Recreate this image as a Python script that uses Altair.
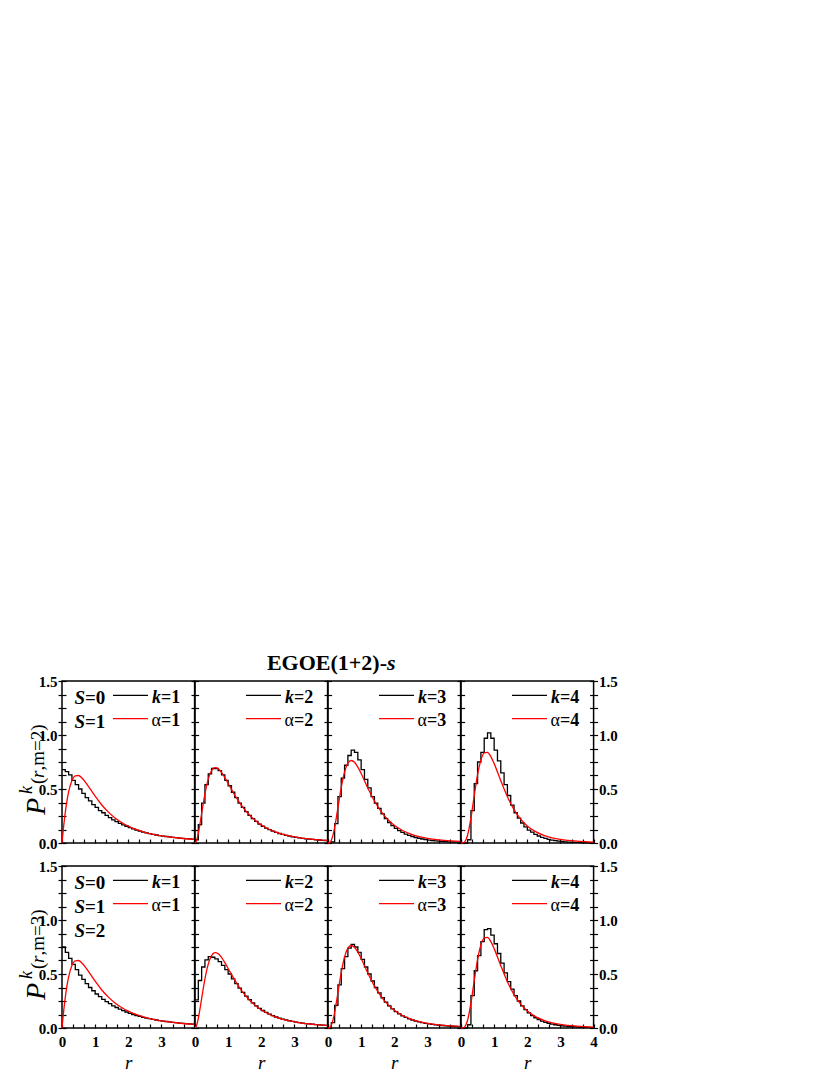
import altair as alt
import pandas as pd

F = "Liberation Serif"

# ---------------- data ----------------
# bin edges of the histograms (bin width 0.1)
R_EDGES = [round(i * 0.1, 1) for i in range(41)]

HIST_M2_K1 = [0.68, 0.66, 0.63, 0.58, 0.54, 0.50, 0.46, 0.42, 0.39, 0.355, 0.33, 0.30, 0.28, 0.255, 0.235, 0.215, 0.198, 0.182, 0.168, 0.155,
              0.142, 0.13, 0.12, 0.11, 0.101, 0.093, 0.086, 0.08, 0.074, 0.069, 0.064, 0.06, 0.056, 0.052, 0.049, 0.046, 0.043, 0.04, 0.038, 0.036]
HIST_M2_K2 = [0.03, 0.17, 0.37, 0.54, 0.64, 0.69, 0.69, 0.67, 0.63, 0.58, 0.53, 0.47, 0.42, 0.37, 0.33, 0.29, 0.255, 0.225, 0.2, 0.175,
              0.155, 0.138, 0.123, 0.11, 0.098, 0.088, 0.079, 0.071, 0.064, 0.058, 0.052, 0.047, 0.043, 0.039, 0.036, 0.033, 0.03, 0.028, 0.025, 0.023]
HIST_M2_K3 = [0.0, 0.01, 0.18, 0.43, 0.60, 0.72, 0.81, 0.86, 0.84, 0.77, 0.68, 0.59, 0.51, 0.43, 0.37, 0.32, 0.27, 0.225, 0.19, 0.16,
              0.135, 0.115, 0.098, 0.083, 0.07, 0.06, 0.051, 0.044, 0.037, 0.032, 0.027, 0.023, 0.02, 0.017, 0.015, 0.013, 0.011, 0.01, 0.009, 0.008]
HIST_M2_K4 = [0.0, 0.0, 0.03, 0.30, 0.55, 0.75, 0.84, 0.97, 1.02, 0.97, 0.86, 0.76, 0.65, 0.54, 0.44, 0.35, 0.28, 0.23, 0.185, 0.15,
              0.12, 0.10, 0.08, 0.065, 0.052, 0.042, 0.034, 0.027, 0.022, 0.018, 0.014, 0.011, 0.009, 0.007, 0.006, 0.005, 0.004, 0.003, 0.002, 0.002]

HIST_M3_K1 = [0.75, 0.70, 0.645, 0.59, 0.54, 0.49, 0.45, 0.41, 0.375, 0.345, 0.315, 0.29, 0.265, 0.245, 0.225, 0.205, 0.19, 0.175, 0.16, 0.148,
              0.135, 0.125, 0.115, 0.107, 0.099, 0.092, 0.086, 0.08, 0.074, 0.069, 0.064, 0.06, 0.056, 0.052, 0.049, 0.046, 0.043, 0.04, 0.038, 0.036]
HIST_M3_K2 = [0.26, 0.44, 0.565, 0.63, 0.66, 0.655, 0.64, 0.615, 0.58, 0.54, 0.5, 0.455, 0.41, 0.37, 0.33, 0.295, 0.262, 0.232, 0.205, 0.182,
              0.162, 0.144, 0.128, 0.114, 0.102, 0.092, 0.083, 0.075, 0.067, 0.061, 0.055, 0.05, 0.045, 0.041, 0.038, 0.035, 0.032, 0.029, 0.027, 0.025]
HIST_M3_K3 = [0.0, 0.05, 0.21, 0.40, 0.55, 0.66, 0.74, 0.775, 0.75, 0.70, 0.635, 0.565, 0.5, 0.435, 0.375, 0.325, 0.28, 0.24, 0.205, 0.177,
              0.152, 0.131, 0.113, 0.098, 0.085, 0.074, 0.064, 0.056, 0.049, 0.043, 0.038, 0.033, 0.029, 0.026, 0.023, 0.02, 0.018, 0.016, 0.014, 0.012]
HIST_M3_K4 = [0.0, 0.0, 0.03, 0.30, 0.53, 0.67, 0.80, 0.91, 0.92, 0.86, 0.78, 0.69, 0.60, 0.51, 0.43, 0.36, 0.30, 0.25, 0.205, 0.17,
              0.14, 0.115, 0.095, 0.078, 0.064, 0.053, 0.044, 0.036, 0.03, 0.025, 0.021, 0.017, 0.014, 0.012, 0.01, 0.008, 0.007, 0.006, 0.005, 0.004]

R_CURVE = [0, 0.05, 0.1, 0.15, 0.2, 0.3, 0.4, 0.5, 0.6, 0.7, 0.8, 0.9, 1.0, 1.2, 1.4, 1.6, 1.8, 2.0, 2.25, 2.5, 2.75, 3.0, 3.5, 4.0]
ALPHA1 = [0, 0.156, 0.286, 0.391, 0.473, 0.578, 0.622, 0.625, 0.602, 0.566, 0.523, 0.477, 0.433, 0.352, 0.286, 0.232, 0.190, 0.156,
          0.124, 0.0995, 0.0808, 0.0665, 0.0463, 0.0334]
ALPHA2 = [0, 0.0251, 0.089, 0.176, 0.272, 0.455, 0.591, 0.670, 0.697, 0.687, 0.653, 0.605, 0.551, 0.443, 0.349, 0.273, 0.213, 0.167,
          0.125, 0.0946, 0.0725, 0.0563, 0.0352, 0.023]
ALPHA3 = [0, 0.0037, 0.0254, 0.0724, 0.143, 0.328, 0.514, 0.657, 0.739, 0.764, 0.747, 0.702, 0.643, 0.510, 0.390, 0.293, 0.219, 0.164,
          0.1155, 0.0823, 0.0595, 0.0436, 0.0245, 0.0145]
ALPHA4 = [0, 0.0005, 0.0071, 0.0292, 0.074, 0.232, 0.440, 0.633, 0.768, 0.834, 0.839, 0.800, 0.735, 0.577, 0.428, 0.309, 0.221, 0.158,
          0.1048, 0.0703, 0.0479, 0.0332, 0.0167, 0.0089]

HISTS = [[HIST_M2_K1, HIST_M2_K2, HIST_M2_K3, HIST_M2_K4],
         [HIST_M3_K1, HIST_M3_K2, HIST_M3_K3, HIST_M3_K4]]
ALPHAS = [ALPHA1, ALPHA2, ALPHA3, ALPHA4]
M_VALUES = ["2", "3"]
K_LABELS = ["1", "2", "3", "4"]
S_LABELS = [["0", "1"], ["0", "1", "2"]]
Y_TICKS = [i * 0.125 for i in range(13)]
X_TICKS = [i / 3 for i in range(13)]
TITLE_MAIN = "EGOE(1+2)-"
TITLE_ITALIC = "s"

# ---------------- layout ----------------
W = 132.6
H = 162
ONE = pd.DataFrame({"a": [0]})
XS = alt.Scale(domain=[0, 4], nice=False, zero=False)
YS = alt.Scale(domain=[0, 1.5], nice=False, zero=False)
YLAB = "datum.value % 0.5 == 0 ? format(datum.value, '.1f') : ''"


def y_axis(orient, labels, offset=0):
    kw = dict(orient=orient, values=Y_TICKS, tickSize=4, tickWidth=1.2, tickColor="black",
              domain=False, grid=False, labels=labels, title=None)
    if offset:
        kw["offset"] = offset
    if labels:
        kw.update(labelExpr=YLAB, labelFont=F, labelFontSize=15, labelFontWeight="bold",
                  labelColor="black", labelPadding=1, labelFlush=False)
    return alt.Axis(**kw)


def txt(text, x, y, size, style="normal", weight="normal", align="left", baseline="middle", angle=0):
    kw = dict(text=text, font=F, fontSize=size, fontStyle=style, fontWeight=weight,
              align=align, baseline=baseline, color="black")
    if angle:
        kw["angle"] = angle
    return alt.Chart(ONE).mark_text(**kw).encode(x=alt.value(x), y=alt.value(y))


def seg(x1, x2, y, color):
    return alt.Chart(ONE).mark_rule(color=color, strokeWidth=1.3).encode(
        x=alt.value(x1), x2=alt.value(x2), y=alt.value(y))


def panel(row, col):
    hv = HISTS[row][col]
    hist_df = pd.DataFrame({"r": R_EDGES, "p": hv + [hv[-1]]})
    curve_df = pd.DataFrame({"r": R_CURVE, "p": ALPHAS[col]})

    if row == 1:
        xb = alt.Axis(orient="bottom", values=[0, 1, 2, 3, 4] if col == 3 else [0, 1, 2, 3],
                      ticks=False, domain=False, grid=False, labelFont=F, labelFontSize=15,
                      labelFontWeight="bold", labelColor="black", labelPadding=6, labelFlush=False,
                      title="r", titleFont=F, titleFontSize=19, titleFontStyle="italic",
                      titleFontWeight="normal", titleColor="black", titlePadding=4)
    else:
        xb = None
    xt = alt.Axis(orient="top", offset=-H, values=X_TICKS, tickSize=4, tickWidth=1.2,
                  tickColor="black", domain=False, grid=False, labels=False, title=None)

    hist = alt.Chart(hist_df).mark_line(interpolate="step-after", color="black", strokeWidth=1.3).encode(
        x=alt.X("r:Q", scale=XS, axis=xb),
        y=alt.Y("p:Q", scale=YS, axis=y_axis("left", col == 0)))
    curve = alt.Chart(curve_df).mark_line(interpolate="monotone", color="red", strokeWidth=1.3).encode(
        x=alt.X("r:Q", scale=XS, axis=xt),
        y=alt.Y("p:Q", scale=YS, axis=y_axis("right", col == 3)))
    layers = [hist, curve]

    if col == 0:
        layers.append(alt.Chart(curve_df).mark_line(opacity=0).encode(
            x=alt.X("r:Q", scale=XS, axis=None),
            y=alt.Y("p:Q", scale=YS, axis=y_axis("right", False, offset=-W))))
    if col == 3:
        layers.append(alt.Chart(curve_df).mark_line(opacity=0).encode(
            x=alt.X("r:Q", scale=XS, axis=None),
            y=alt.Y("p:Q", scale=YS, axis=y_axis("left", False, offset=-W))))

    # legend
    layers += [
        seg(51, 86, 14.3, "black"),
        seg(51, 86, 37.6, "red"),
        txt("k", 99, 16.5, 18, style="italic", weight="bold", align="right"),
        txt("=" + K_LABELS[col], 99, 16.5, 18, weight="bold"),
        txt("\u03b1", 99, 40, 18, align="right"),
        txt("=" + K_LABELS[col], 99, 40, 18, weight="bold"),
    ]

    if col == 0:
        for i, s in enumerate(S_LABELS[row]):
            yy = 17 + 24 * i
            layers += [txt("S", 23, yy, 19, style="italic", weight="bold", align="right"),
                       txt("=" + s, 23, yy, 19, weight="bold")]
        # y axis title  P^k(r,m=..)
        layers += [
            txt("P", -17, 134, 28, style="italic", baseline="alphabetic", angle=270),
            txt("k", -30, 113, 18, style="italic", baseline="alphabetic", angle=270),
            txt("(", -18, 103, 19, baseline="alphabetic", angle=270),
            txt("r", -18, 97, 19, style="italic", baseline="alphabetic", angle=270),
            txt(",m=" + M_VALUES[row] + ")", -18, 89.5, 19, baseline="alphabetic", angle=270),
        ]
    if row == 0 and col == 2:
        layers += [txt(TITLE_MAIN, 59, -11, 22, weight="bold", align="right", baseline="alphabetic"),
                   txt(TITLE_ITALIC, 59, -11, 22, style="italic", weight="bold", baseline="alphabetic")]

    return alt.layer(*layers).resolve_axis(x="independent", y="independent").properties(width=W, height=H)


panels = [panel(r, c) for r in range(2) for c in range(4)]
chart = alt.concat(*panels, columns=4, spacing={"row": 23, "column": 0}, bounds="flush").properties(
    padding={"left": 9, "top": 643, "right": 5, "bottom": 5}
).configure(font=F).configure_view(stroke="black", strokeWidth=1.5)

chart.save("out.html", embed_options={"renderer": "svg", "actions": False})
